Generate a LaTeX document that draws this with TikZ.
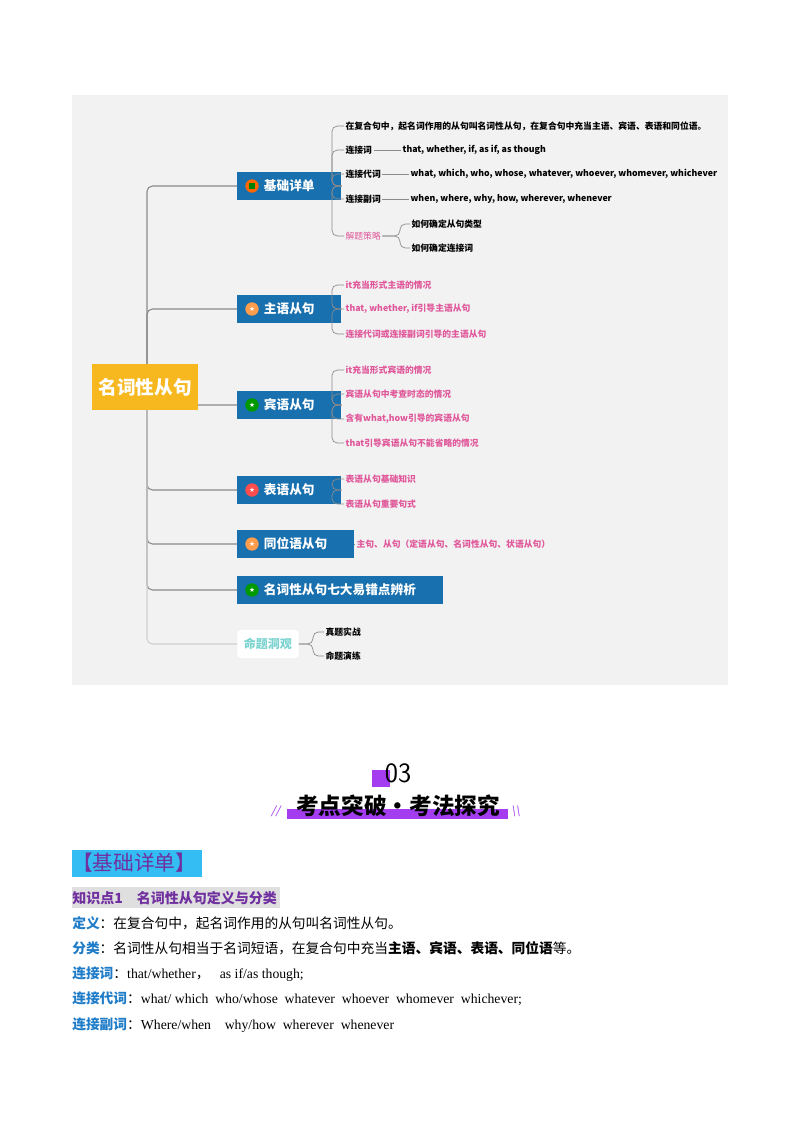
\documentclass[tikz,border=0pt]{standalone}
\usepackage{fontspec}
\setmainfont{Liberation Serif}
\newfontfamily\cjk{Noto Sans CJK SC}
\newfontfamily\djv{DejaVu Sans}
\definecolor{panel}{HTML}{F2F2F3}
\definecolor{bluebox}{HTML}{1870AE}
\definecolor{mainc}{HTML}{F7B71E}
\definecolor{pinkt}{HTML}{E0589A}
\definecolor{linec}{HTML}{8A8A8A}
\definecolor{purp}{HTML}{7030A0}
\definecolor{purbar}{HTML}{A43CF0}
\definecolor{labblue}{HTML}{1F7CC8}
\definecolor{teal}{HTML}{7AD3CF}
\tikzset{
 bbox/.style={fill=bluebox,text=white,font=\cjk\fontsize{9.5}{11}\selectfont\bfseries,minimum height=21pt,anchor=west,inner xsep=20pt},
 leaf/.style={anchor=west,font=\cjk\fontsize{6.6}{8}\selectfont\bfseries,inner sep=1pt},
 pleaf/.style={leaf,text=pinkt},
 conn/.style={draw=linec,line width=0.8pt,rounded corners=4pt},
 ico/.style={circle,minimum size=10pt,inner sep=0pt,text=white,font=\djv\fontsize{5}{6}\selectfont},
 body/.style={anchor=base west,font=\fontsize{10.3}{12}\selectfont,inner sep=0pt},
}
\begin{document}
\begin{tikzpicture}[x=0.75pt,y=-0.75pt]
\fill[white] (0,0) rectangle (800,1132);
\useasboundingbox (0,0) rectangle (800,1132);
\fill[panel] (72,95) rectangle (728,685);
\node[bbox] (b1) at (237,186) {基础详单};
\node[bbox] (b2) at (237,309) {主语从句};
\node[bbox] (b3) at (237,405) {宾语从句};
\node[bbox] (b4) at (237,490) {表语从句};
\node[bbox] (b5) at (237,544) {同位语从句};
\node[bbox] (b6) at (237,590) {名词性从句七大易错点辨析};
\node[fill=white,rounded corners=3pt,text=teal,font=\cjk\fontsize{9}{11}\selectfont\bfseries,minimum height=21pt,minimum width=46pt,anchor=west] (b7) at (237,644) {命题洞观};
\coordinate (trunk) at (147,387);
\foreach \b in {b1,b2,b3,b4,b5,b6}{\draw[conn] (trunk) |- (\b.west);}
\draw[conn,draw=linec!40] (trunk) |- (b7.west);
\node[fill=mainc,text=white,font=\cjk\fontsize{14}{16}\selectfont\bfseries,minimum width=79pt,minimum height=34pt] (main) at (145,387) {名词性从句};
\node[ico,fill=orange!80!red] at (252,186) {};
\fill[green!50!black] (249,183) rectangle (255,189);
\node[ico,fill=orange!90!red!70] at (252,309) {★};
\node[ico,fill=green!60!black] at (252,405) {★};
\node[ico,fill=red!70] at (252,490) {★};
\node[ico,fill=orange!90!red!70] at (252,544) {★};
\node[ico,fill=green!60!black] at (252,590) {★};
% b1 leaves
\node[leaf] (l11) at (344,126) {在复合句中，起名词作用的从句叫名词性从句，在复合句中充当主语、宾语、表语和同位语。};
\node[leaf] (l12) at (344,150) {连接词};
\node[leaf] (l12a) at (401,150) {that, whether, if, as if, as though};
\node[leaf] (l13) at (344,174) {连接代词};
\node[leaf] (l13a) at (409,174) {what, which, who, whose, whatever, whoever, whomever, whichever};
\node[leaf] (l14) at (344,199) {连接副词};
\node[leaf] (l14a) at (409,199) {when, where, why, how, wherever, whenever};
\node[pleaf,font=\cjk\fontsize{6.6}{8}\selectfont] (l15) at (344,236) {解题策略};
\node[leaf] (l151) at (410,224) {如何确定从句类型};
\node[leaf] (l152) at (410,248) {如何确定连接词};
\foreach \l in {l11,l12,l13,l14,l15}{\draw[conn,line width=0.5pt] (b1.east) -- (332,186) |- (\l.west);}
\draw[conn,line width=0.5pt] (l12.east) -- (l12a.west);
\draw[conn,line width=0.5pt] (l13.east) -- (l13a.west);
\draw[conn,line width=0.5pt] (l14.east) -- (l14a.west);
\foreach \l in {l151,l152}{\draw[conn,line width=0.5pt] (l15.east) -- (400,236) |- (\l.west);}
% b2
\node[pleaf] (l21) at (344,285) {it充当形式主语的情况};
\node[pleaf] (l22) at (344,309) {that, whether, if引导主语从句};
\node[pleaf] (l23) at (344,334) {连接代词或连接副词引导的主语从句};
\foreach \l in {l21,l22,l23}{\draw[conn,line width=0.5pt] (b2.east) -- (332,309) |- (\l.west);}
% b3
\node[pleaf] (l31) at (344,370) {it充当形式宾语的情况};
\node[pleaf] (l32) at (344,394) {宾语从句中考查时态的情况};
\node[pleaf] (l33) at (344,419) {含有what,how引导的宾语从句};
\node[pleaf] (l34) at (344,443) {that引导宾语从句不能省略的情况};
\foreach \l in {l31,l32,l33,l34}{\draw[conn,line width=0.5pt] (b3.east) -- (332,405) |- (\l.west);}
% b4
\node[pleaf] (l41) at (344,479) {表语从句基础知识};
\node[pleaf] (l42) at (344,504) {表语从句重要句式};
\foreach \l in {l41,l42}{\draw[conn,line width=0.5pt] (b4.east) -- (332,490) |- (\l.west);}
% b5
\node[pleaf] (l51) at (355,544) {主句、从句（定语从句、名词性从句、状语从句）};
\draw[conn,line width=0.5pt] (b5.east) -- (l51.west);
% b7
\node[leaf] (l71) at (324,632) {真题实战};
\node[leaf] (l72) at (324,656) {命题演练};
\foreach \l in {l71,l72}{\draw[conn,line width=0.5pt] (b7.east) -- (313,644) |- (\l.west);}
% section title
\fill[purbar] (372,770) rectangle (390,787);
\node[font=\fontsize{21}{24}\selectfont\sffamily] (num) at (398,773) {03};
\fill[purbar] (287,809) rectangle (508,819);
\node[font=\cjk\fontsize{17}{20}\selectfont\bfseries] (ttl) at (398,806) {考点突破·考法探究};
\node[text=purbar,font=\fontsize{12}{14}\selectfont\itshape] (sl1) at (276,811) {//};
\node[text=purbar,font=\fontsize{12}{14}\selectfont\itshape] (sl2) at (516,811) {\textbackslash\textbackslash};
% bottom text
\fill[cyan!80!white] (72,850) rectangle (202,877);
\node[anchor=west,text=purp,font=\cjk\fontsize{15.5}{18}\selectfont,inner sep=0pt] (hd) at (72,863) {【基础详单】};
\fill[gray!25] (72,887) rectangle (280,908);
\node[anchor=west,text=purp,font=\cjk\fontsize{10.5}{12}\selectfont\bfseries,inner sep=0pt] (kp) at (72,898) {知识点1\quad 名词性从句定义与分类};
\node[body] (t1) at (72,928) {{\cjk\bfseries\color{labblue}定义}{\cjk：在复合句中，起名词作用的从句叫名词性从句。}};
\node[body] (t2) at (72,953) {{\cjk\bfseries\color{labblue}分类}{\cjk：名词性从句相当于名词短语，在复合句中充当\textbf{主语、宾语、表语、同位语}等。}};
\node[body] (t3) at (72,978) {{\cjk\bfseries\color{labblue}连接词}{\cjk：}that/whether{\cjk，}\ \ \ as if/as though;};
\node[body] (t4) at (72,1003) {{\cjk\bfseries\color{labblue}连接代词}{\cjk：}what/ which\ \ who/whose\ \ whatever\ \ whoever\ \ whomever\ \ whichever;};
\node[body] (t5) at (72,1029) {{\cjk\bfseries\color{labblue}连接副词}{\cjk：}Where/when\ \ \ \ why/how\ \ wherever\ \ whenever};
\end{tikzpicture}
\end{document}
